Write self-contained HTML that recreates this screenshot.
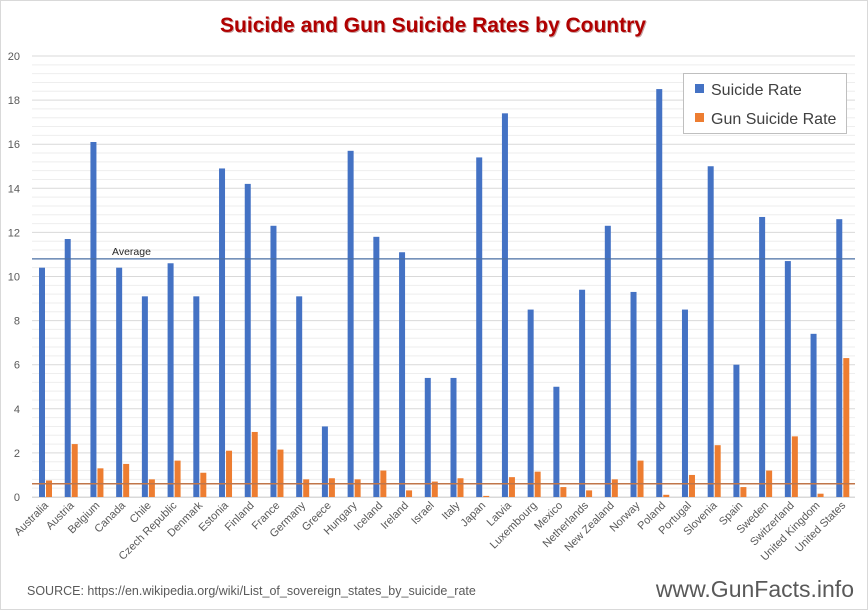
<!DOCTYPE html>
<html><head><meta charset="utf-8"><style>
body{margin:0;background:#fff;}
svg{display:block;font-family:"Liberation Sans",sans-serif;}
</style></head><body>
<svg id="c" width="868" height="610">
<rect x="0.5" y="0.5" width="867" height="609" fill="#fff" stroke="#d9d9d9"/>
<text x="434" y="33" text-anchor="middle" font-size="21" font-weight="bold" fill="#c8a0a0">Suicide and Gun Suicide Rates by Country</text>
<text x="433" y="32" text-anchor="middle" font-size="21" font-weight="bold" fill="#b00000">Suicide and Gun Suicide Rates by Country</text>
<g id="grid"></g><g id="bars"></g><g id="xl"></g>
<rect x="683.5" y="73.5" width="163" height="60" fill="#fff" stroke="#bfbfbf"/>
<rect x="695" y="84" width="9" height="9" fill="#4472c4"/>
<text x="711" y="95" font-size="16" fill="#404040">Suicide Rate</text>
<rect x="695" y="113" width="9" height="9" fill="#ed7d31"/>
<text x="711" y="124" font-size="16" fill="#404040">Gun Suicide Rate</text>
<text x="27" y="595" font-size="12.5" fill="#595959">SOURCE: https://en.wikipedia.org/wiki/List_of_sovereign_states_by_suicide_rate</text>
<text x="854" y="597" text-anchor="end" font-size="23" fill="#595959">www.GunFacts.info</text>
</svg>
<script>
const countries=["Australia","Austria","Belgium","Canada","Chile","Czech Republic","Denmark","Estonia","Finland","France","Germany","Greece","Hungary","Iceland","Ireland","Israel","Italy","Japan","Latvia","Luxembourg","Mexico","Netherlands","New Zealand","Norway","Poland","Portugal","Slovenia","Spain","Sweden","Switzerland","United Kingdom","United States"];
const suicideRate=[10.4,11.7,16.1,10.4,9.1,10.6,9.1,14.9,14.2,12.3,9.1,3.2,15.7,11.8,11.1,5.4,5.4,15.4,17.4,8.5,5.0,9.4,12.3,9.3,18.5,8.5,15.0,6.0,12.7,10.7,7.4,12.6];
const gunRate=[0.75,2.4,1.3,1.5,0.8,1.65,1.1,2.1,2.95,2.15,0.8,0.85,0.8,1.2,0.3,0.7,0.85,0.05,0.9,1.15,0.45,0.3,0.8,1.65,0.1,1.0,2.35,0.45,1.2,2.75,0.15,6.3];
const yTicks=[0,2,4,6,8,10,12,14,16,18,20];
const avgSuicide=10.8, avgGun=0.6;
const NS="http://www.w3.org/2000/svg";
const x0=32,x1=855,y0=497,y1=56,ymax=20;
const cw=(x1-x0)/countries.length;
const Y=v=>y0-(v/ymax)*(y0-y1);
const X=i=>x0+i*cw;
function mk(tag,attrs,parent){const e=document.createElementNS(NS,tag);for(const k in attrs)e.setAttribute(k,attrs[k]);parent.appendChild(e);return e;}
const grid=document.getElementById('grid'),bars=document.getElementById('bars'),xl=document.getElementById('xl');
for(let v=0;v<=ymax+0.001;v+=0.4){
 const l=mk('line',{x1:x0,x2:x1,y1:Y(v),y2:Y(v),stroke:Math.abs(v%2)<0.01||Math.abs(v%2-2)<0.01?'#d9d9d9':'#eeeeee','stroke-width':1},grid);
 
 
}
yTicks.forEach(t=>{
 const e=mk('text',{x:20,y:Y(t)+4,'text-anchor':'end','font-size':11,fill:'#595959'},grid);
 e.textContent=t;
 
 
});
countries.forEach((c,i)=>{
 const bx=X(i)+7;
 const b=mk('rect',{x:bx,y:Y(suicideRate[i]),width:6,height:y0-Y(suicideRate[i]),fill:'#4472c4'},bars);
 
 
 const g=mk('rect',{x:bx+7,y:Y(gunRate[i]),width:6,height:y0-Y(gunRate[i]),fill:'#ed7d31'},bars);
 
 
 const cx=X(i)+cw/2+4, cy=506;
 const t=mk('text',{x:cx,y:cy,'text-anchor':'end','font-size':11,fill:'#595959',transform:`rotate(-45 ${cx} ${cy})`},xl);
 t.textContent=c;
 
 
});
const la=mk('line',{x1:x0,x2:x1,y1:Y(avgSuicide),y2:Y(avgSuicide),stroke:'#4a6fa5','stroke-width':1.2},bars);


const lg=mk('line',{x1:x0,x2:x1,y1:Y(avgGun),y2:Y(avgGun),stroke:'#c0764a','stroke-width':1.5},bars);


const at=mk('text',{x:112,y:Y(avgSuicide)-4,'font-size':10.5,fill:'#262626'},bars);
at.textContent='Average';


const ax=mk('line',{x1:x0,x2:x1,y1:y0+0.5,y2:y0+0.5,stroke:'#d9d9d9'},bars);


</script>
</body></html>
